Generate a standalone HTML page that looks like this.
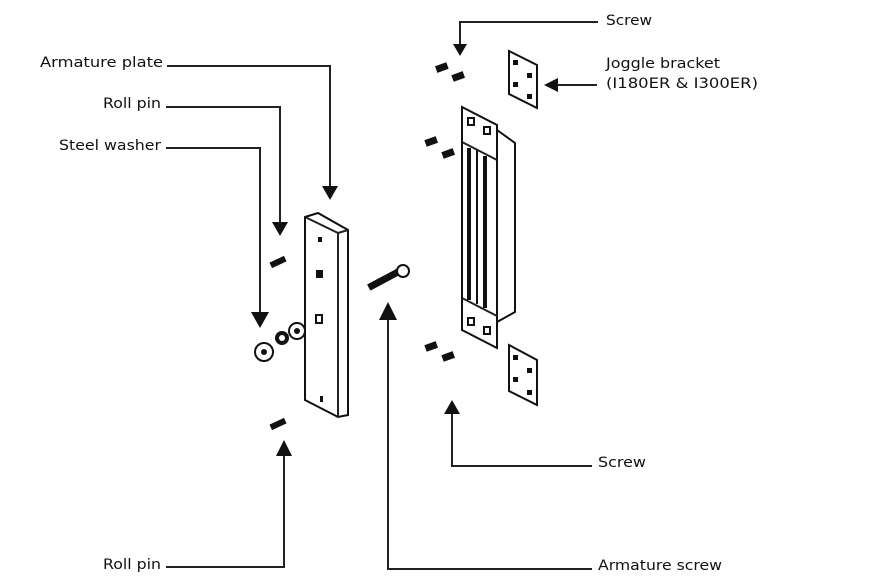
<!DOCTYPE html>
<html><head><meta charset="utf-8"><style>
html,body{margin:0;padding:0;background:#fff;}
svg{display:block;}
text{font-family:"DejaVu Sans","Liberation Sans",sans-serif;font-size:14.5px;fill:#111;}
.l{stroke:#222;stroke-width:2;fill:none;}
.o{stroke:#111;stroke-width:2;fill:#fff;}
.b{fill:#111;}
</style></head><body>
<svg width="876" height="587" viewBox="0 0 876 587">
<!-- labels -->
<text x="40" y="67" textLength="123" lengthAdjust="spacingAndGlyphs">Armature plate</text>
<text x="103" y="108" textLength="58" lengthAdjust="spacingAndGlyphs">Roll pin</text>
<text x="59" y="150" textLength="102" lengthAdjust="spacingAndGlyphs">Steel washer</text>
<text x="103" y="569" textLength="58" lengthAdjust="spacingAndGlyphs">Roll pin</text>
<text x="606" y="25" textLength="46" lengthAdjust="spacingAndGlyphs">Screw</text>
<text x="606" y="68" textLength="114" lengthAdjust="spacingAndGlyphs">Joggle bracket</text>
<text x="606" y="88" textLength="152" lengthAdjust="spacingAndGlyphs">(I180ER &amp; I300ER)</text>
<text x="598" y="467" textLength="48" lengthAdjust="spacingAndGlyphs">Screw</text>
<text x="598" y="570" textLength="124" lengthAdjust="spacingAndGlyphs">Armature screw</text>

<!-- leader lines -->
<g>
<polyline class="l" points="167,66 330,66 330,190"/>
<polygon class="b" points="322,186 338,186 330,200"/>
<polyline class="l" points="166,107 280,107 280,226"/>
<polygon class="b" points="272,222 288,222 280,236"/>
<polyline class="l" points="166,148 260,148 260,316"/>
<polygon class="b" points="251,312 269,312 260,328"/>
<polyline class="l" points="166,567 284,567 284,452"/>
<polygon class="b" points="276,456 292,456 284,440"/>
<polyline class="l" points="592,569 388,569 388,318"/>
<polygon class="b" points="379,320 397,320 388,302"/>
<polyline class="l" points="592,466 452,466 452,412"/>
<polygon class="b" points="444,414 460,414 452,400"/>
<polyline class="l" points="598,22 460,22 460,46"/>
<polygon class="b" points="453,44 467,44 460,56"/>
<line class="l" x1="597" y1="85" x2="555" y2="85"/>
<polygon class="b" points="558,78 558,92 544,85"/>
</g>

<!-- armature plate -->
<g>
<polygon class="o" points="305,217 318,213 348,230 348,415 338,417 305,400"/>
<polyline class="l" points="305,217 338,233 338,417"/>
<line class="l" x1="338" y1="233" x2="348" y2="230"/>
<rect class="b" x="318" y="237" width="4" height="5"/>
<rect class="b" x="316" y="270" width="7" height="8"/>
<rect x="316" y="315" width="6" height="8" fill="#fff" stroke="#111" stroke-width="2"/>
<rect class="b" x="320" y="396" width="3" height="6"/>
</g>
<!-- roll pins -->
<rect class="b" x="270" y="259" width="16" height="6" transform="rotate(-25 278 262)"/>
<rect class="b" x="270" y="421" width="16" height="6" transform="rotate(-25 278 424)"/>
<!-- washers -->
<g>
<circle cx="264" cy="352" r="9" class="o"/><circle cx="264" cy="352" r="3" class="b"/>
<circle cx="282" cy="338" r="7" fill="#111"/><circle cx="282" cy="338" r="3" fill="#fff"/>
<circle cx="297" cy="331" r="8" class="o"/><circle cx="297" cy="331" r="3" class="b"/>
</g>
<!-- armature screw -->
<g>
<rect x="367" y="276" width="34" height="7" fill="#111" transform="rotate(-28 384 280)"/>
<circle cx="403" cy="271" r="6" class="o"/>
</g>
<!-- screws -->
<g fill="#111">
<rect x="436" y="64" width="12" height="7" transform="rotate(-20 442 68)"/>
<rect x="452" y="73" width="12" height="7" transform="rotate(-20 458 76)"/>
<rect x="425" y="138" width="12" height="7" transform="rotate(-20 431 141)"/>
<rect x="442" y="150" width="12" height="7" transform="rotate(-20 448 153)"/>
<rect x="425" y="343" width="12" height="7" transform="rotate(-20 431 346)"/>
<rect x="442" y="353" width="12" height="7" transform="rotate(-20 448 356)"/>
</g>
<!-- brackets -->
<g>
<polygon class="o" points="509,51 537,65 537,108 509,94"/>
<rect class="b" x="513" y="60" width="5" height="5"/><rect class="b" x="527" y="73" width="5" height="5"/>
<rect class="b" x="513" y="82" width="5" height="5"/><rect class="b" x="527" y="94" width="5" height="5"/>
</g>
<g>
<polygon class="o" points="509,345 537,360 537,405 509,391"/>
<rect class="b" x="513" y="355" width="5" height="5"/><rect class="b" x="527" y="368" width="5" height="5"/>
<rect class="b" x="513" y="377" width="5" height="5"/><rect class="b" x="527" y="390" width="5" height="5"/>
</g>
<!-- magnet -->
<g>
<polygon class="o" points="497,130 515,143 515,312 497,322"/>
<polygon class="o" points="462,107 497,125 497,348 462,330"/>
<line class="l" x1="462" y1="142" x2="497" y2="160"/>
<line class="l" x1="462" y1="298" x2="497" y2="316"/>
<rect class="b" x="467" y="148" width="4" height="152"/>
<rect class="b" x="483" y="156" width="4" height="152"/>
<rect class="b" x="476" y="150" width="2" height="154"/>
<rect x="468" y="118" width="6" height="7" fill="#fff" stroke="#111" stroke-width="2"/>
<rect x="484" y="127" width="6" height="7" fill="#fff" stroke="#111" stroke-width="2"/>
<rect x="468" y="318" width="6" height="7" fill="#fff" stroke="#111" stroke-width="2"/>
<rect x="484" y="327" width="6" height="7" fill="#fff" stroke="#111" stroke-width="2"/>
</g>
</svg>
</body></html>
